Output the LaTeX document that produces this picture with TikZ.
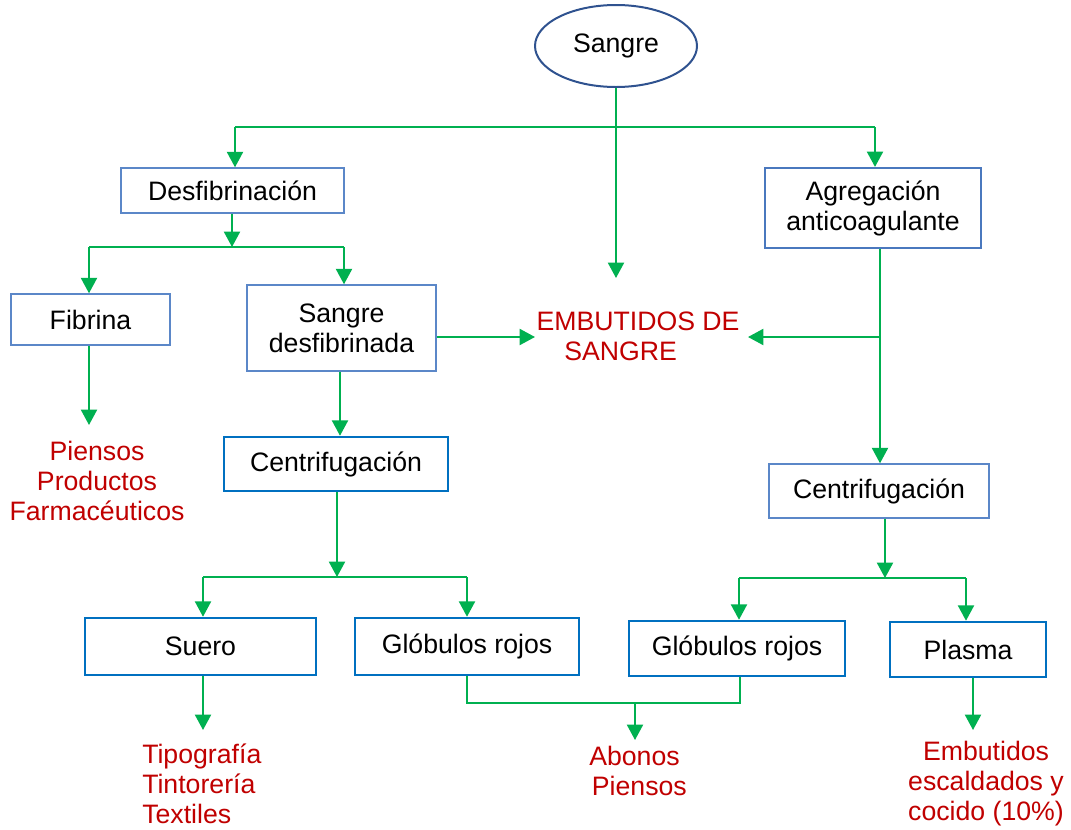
\documentclass[tikz,border=0pt]{standalone}
\usepackage{fontspec}
\setmainfont{Liberation Sans}
\usetikzlibrary{arrows.meta,shapes.geometric}
\definecolor{flow}{HTML}{00B050}
\definecolor{lightedge}{HTML}{5B87C8}
\definecolor{midedge}{HTML}{4A78BE}
\definecolor{strongedge}{HTML}{0070C0}
\definecolor{ovaledge}{HTML}{2F528F}
\definecolor{usecol}{HTML}{C00000}
\begin{document}
\begin{tikzpicture}[x=0.75pt,y=-0.75pt,
  txt/.style={font=\fontsize{20}{22.5}\selectfont, inner sep=0pt},
  box/.style={txt, draw, rectangle, fill=white, align=center},
  thinbox/.style={box, draw=lightedge, line width=1.1pt},
  midbox/.style={box, draw=midedge, line width=1.6pt},
  strongbox/.style={box, draw=strongedge, line width=1.9pt},
  uses/.style={txt, text=usecol},
  flowline/.style={draw=flow, line width=1.5pt},
  flowarrow/.style={flowline, -{Triangle[length=11.5pt,width=12pt]}},
]
\useasboundingbox (0,0) rectangle (1071,829);

% source
\node[txt, ellipse, draw=ovaledge, line width=1.5pt, minimum width=121.5pt, minimum height=61.5pt] (sangre) at (616,46) {\raisebox{-1.5pt}{Sangre}};

% process boxes
\node[thinbox, minimum width=167.25pt, minimum height=33.75pt] (desf) at (232.5,190.5) {\raisebox{-2pt}{Desfibrinación}};
\node[thinbox, minimum width=119.25pt, minimum height=38.25pt] (fib) at (90.5,319.5) {\raisebox{-2pt}{Fibrina}};
\node[thinbox, minimum width=141.75pt, minimum height=64.5pt] (sdes) at (341.5,328) {Sangre\\desfibrinada};
\node[midbox, minimum width=162pt, minimum height=60pt] (agr) at (873,208) {Agregación\\anticoagulante};
\node[strongbox, minimum width=168pt, minimum height=40.5pt] (cenL) at (336,464) {\raisebox{-1.5pt}{Centrifugación}};
\node[thinbox, minimum width=165pt, minimum height=40.5pt] (cenR) at (879,491) {\raisebox{-1.5pt}{Centrifugación}};
\node[strongbox, minimum width=173.25pt, minimum height=42.75pt] (suero) at (200.5,646.5) {Suero};
\node[strongbox, minimum width=168pt, minimum height=42.75pt] (globL) at (467,646.5) {Glóbulos rojos};
\node[strongbox, minimum width=162pt, minimum height=41.25pt] (globR) at (737,648.5) {Glóbulos rojos};
\node[strongbox, minimum width=117pt, minimum height=41.25pt] (plasma) at (968,649.5) {Plasma};

% products
\node[uses, align=center] (emb) at (638,336) {EMBUTIDOS DE\\\hspace*{-1.3em}SANGRE};
\node[uses, align=center] (usefib) at (97,481) {Piensos\\Productos\\Farmacéuticos};
\node[uses, align=left, anchor=west] (usesuero) at (142,784) {Tipografía\\Tintorería\\Textiles};
\node[uses, align=left, anchor=west] (useglob) at (589,771) {Abonos\\\hspace*{0.1em}Piensos};
\node[uses, align=center] (useplasma) at (986,784) {Embutidos\\escaldados y\\cocido (10\%)};

% junction points
\coordinate (embtop) at (616,278);
\coordinate (j1l) at (235,127);
\coordinate (j1c) at (616,127);
\coordinate (j1r) at (875,127);
\coordinate (j2) at (232,247);
\coordinate (j2l) at (89,247);
\coordinate (j2r) at (344,247);
\coordinate (embL) at (535,337);
\coordinate (embR) at (748,337);
\coordinate (j3) at (880,337);
\coordinate (j4) at (337,577);
\coordinate (j4l) at (203,577);
\coordinate (j4r) at (467,577);
\coordinate (j5) at (885,578);
\coordinate (j5l) at (739,578);
\coordinate (j5r) at (966,578);
\coordinate (jgl) at (467,703);
\coordinate (jgc) at (635,703);
\coordinate (jgr) at (740,703);
\coordinate (tfib) at (89,425);
\coordinate (tsuero) at (203,730);
\coordinate (tglob) at (635,740);
\coordinate (tplasma) at (973,730);

% top split
\draw[flowarrow] (sangre.south) -- (embtop);
\draw[flowline] (j1l) -- (j1r);
\draw[flowarrow] (j1l) -- (j1l |- desf.north);
\draw[flowarrow] (j1r) -- (j1r |- agr.north);

% defibrination branch
\draw[flowarrow] (desf.south -| j2) -- (j2);
\draw[flowline] (j2l) -- (j2r);
\draw[flowarrow] (j2l) -- (j2l |- fib.north);
\draw[flowarrow] (j2r) -- (j2r |- sdes.north);
\draw[flowarrow] (fib.south -| tfib) -- (tfib);
\draw[flowarrow] (sdes.east |- embL) -- (embL);
\draw[flowarrow] (sdes.south -| 340,0) -- (cenL.north -| 340,0);
\draw[flowarrow] (cenL.south -| j4) -- (j4);
\draw[flowline] (j4l) -- (j4r);
\draw[flowarrow] (j4l) -- (j4l |- suero.north);
\draw[flowarrow] (j4r) -- (j4r |- globL.north);
\draw[flowarrow] (suero.south -| tsuero) -- (tsuero);

% anticoagulant branch
\draw[flowarrow] (agr.south -| j3) -- (cenR.north -| j3);
\draw[flowarrow] (j3) -- (embR);
\draw[flowarrow] (cenR.south -| j5) -- (j5);
\draw[flowline] (j5l) -- (j5r);
\draw[flowarrow] (j5l) -- (j5l |- globR.north);
\draw[flowarrow] (j5r) -- (j5r |- plasma.north);
\draw[flowarrow] (plasma.south -| tplasma) -- (tplasma);

% red cells from both sides
\draw[flowline] (globL.south -| jgl) -- (jgl) -- (jgr) -- (globR.south -| jgr);
\draw[flowarrow] (jgc) -- (tglob);
\end{tikzpicture}
\end{document}
